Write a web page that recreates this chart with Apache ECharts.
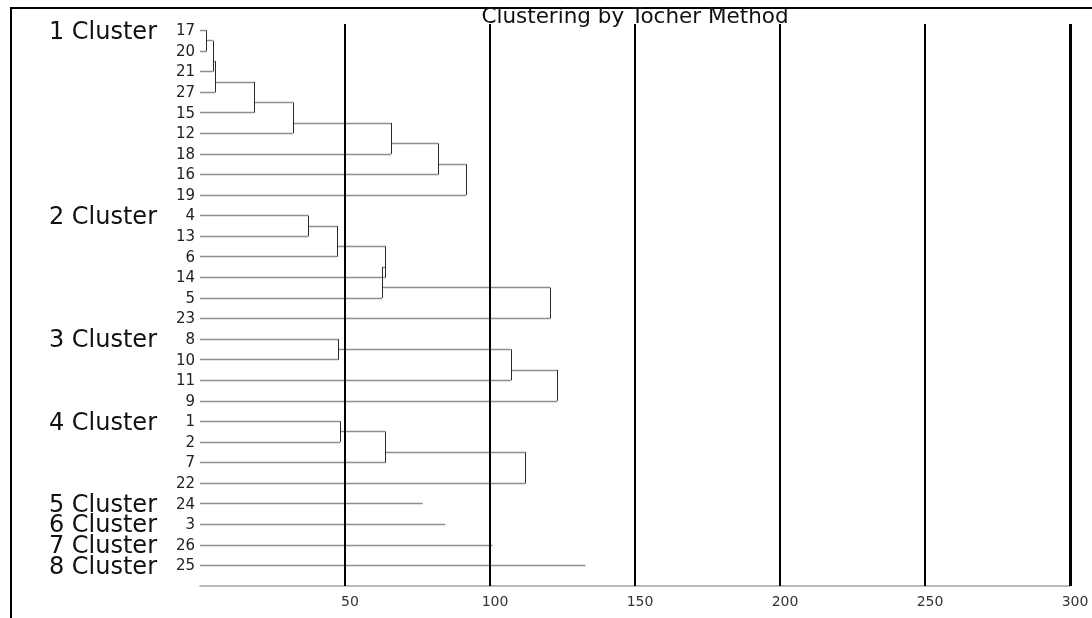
<!DOCTYPE html>
<html>
<head>
<meta charset="utf-8">
<script src="https://cdn.jsdelivr.net/npm/echarts@6/dist/echarts.min.js"></script>
<style>
html,body{margin:0;padding:0;background:#fff;}
#chart{width:1092px;height:618px;}
</style>
</head>
<body>
<div id="chart"></div>
<script>
// ---- data ----
const leaves = ['17','20','21','27','15','12','18','16','19','4','13','6','14','5','23','8','10','11','9','1','2','7','22','24','3','26','25'];
const clusterNames = ['1 Cluster','2 Cluster','3 Cluster','4 Cluster','5 Cluster','6 Cluster','7 Cluster','8 Cluster'];
const clusterSizes = [9, 6, 4, 4, 1, 1, 1, 1];
const mergeHeights1 = [2.3, 4.4, 5.3, 18.6, 32.0, 65.9, 82.2, 91.7];
const mergeHeights2 = [37.3, 47.2, 64.0, 62.8, 120.7];
const mergeHeights3 = [47.7, 107.2, 123.2];
const mergeHeights4 = [48.3, 64.0, 112.3];
const singletonLengths = [76.8, 84.6, 100.9, 132.9];
const xTicks = [50, 100, 150, 200, 250, 300];
const titleText = 'Clustering by Tocher Method';

// ---- build dendrogram segments from the merge heights ----
const clusterHeights = [mergeHeights1, mergeHeights2, mergeHeights3, mergeHeights4];
const horiz = [];
const vert = [];
const clusterRows = [];
let start = 0;
let singleIdx = 0;
clusterSizes.forEach(function (n, c) {
  clusterRows.push(start);
  if (n === 1) {
    horiz.push({coords: [[0, start], [singletonLengths[singleIdx++], start]]});
  } else {
    const h = clusterHeights[c];
    horiz.push({coords: [[0, start], [h[0], start]]});
    horiz.push({coords: [[0, start + 1], [h[0], start + 1]]});
    vert.push({coords: [[h[0], start], [h[0], start + 1]]});
    let node = {x: h[0], y: start + 0.5};
    for (let k = 1; k < n - 1; k++) {
      const row = start + k + 1;
      const hk = h[k];
      horiz.push({coords: [[node.x, node.y], [hk, node.y]]});
      horiz.push({coords: [[0, row], [hk, row]]});
      vert.push({coords: [[hk, node.y], [hk, row]]});
      node = {x: hk, y: (node.y + 2 * row) / 3};
    }
  }
  start += n;
});

const leafData = leaves.map(function (name, i) { return {name: name, value: [0, i]}; });
const clusterData = clusterNames.map(function (name, i) { return {name: name, value: [0, clusterRows[i]]}; });

const FONT = '"DejaVu Sans", "Liberation Sans", sans-serif';

const chart = echarts.init(document.getElementById('chart'), null, {renderer: 'canvas'});
chart.setOption({
  animation: false,
  backgroundColor: '#fff',
  grid: {left: 200, right: 22, top: 24, bottom: 32, containLabel: false},
  xAxis: {
    type: 'value', min: 0, max: 300, interval: 50,
    splitLine: {show: false},
    axisTick: {show: false},
    axisLine: {show: true, onZero: false, lineStyle: {color: '#a3a3a3', width: 1.5}},
    axisLabel: {
      show: true, showMinLabel: false, margin: 9,
      color: '#333', fontSize: 14, fontFamily: FONT,
      padding: [0, 0, 0, 10]
    }
  },
  yAxis: {type: 'value', min: -0.31, max: 27.0, inverse: true, show: false},
  graphic: [
    {type: 'line', shape: {x1: 10, y1: 8, x2: 1092, y2: 8}, style: {stroke: '#000', lineWidth: 2}, z: 100},
    {type: 'line', shape: {x1: 11, y1: 8, x2: 11, y2: 618}, style: {stroke: '#000', lineWidth: 2}, z: 100},
    {type: 'text', x: 635, y: 17, z: 100,
      style: {text: titleText, fill: '#111', font: '21.5px ' + FONT, align: 'center', verticalAlign: 'middle'}}
  ],
  series: [
    {
      type: 'lines', coordinateSystem: 'cartesian2d', polyline: false, silent: true,
      lineStyle: {color: '#8f8f8f', width: 1.3, opacity: 1},
      data: horiz, z: 3
    },
    {
      type: 'lines', coordinateSystem: 'cartesian2d', polyline: false, silent: true,
      lineStyle: {color: '#2a2a2a', width: 1, opacity: 1},
      data: vert, z: 4
    },
    {
      type: 'scatter', symbolSize: 0, itemStyle: {color: '#000', opacity: 1}, silent: true,
      data: leafData,
      label: {show: true, position: 'left', distance: 5, offset: [0, 1], formatter: '{b}', color: '#222', opacity: 1, fontSize: 15, fontFamily: FONT},
      z: 5,
      markLine: {
        silent: true, symbol: ['none', 'none'], label: {show: false},
        lineStyle: {color: '#000', width: 2, type: 'solid', opacity: 1},
        data: xTicks.map(function (v) {
          return {xAxis: v, lineStyle: {width: v === 300 ? 3 : 2}};
        })
      }
    },
    {
      type: 'scatter', symbolSize: 0, itemStyle: {color: '#000', opacity: 1}, silent: true,
      data: clusterData,
      label: {show: true, position: 'left', distance: 43, offset: [0, 2], formatter: '{b}', color: '#111', opacity: 1, fontSize: 24, fontFamily: FONT},
      z: 5
    }
  ]
});
</script>
</body>
</html>
